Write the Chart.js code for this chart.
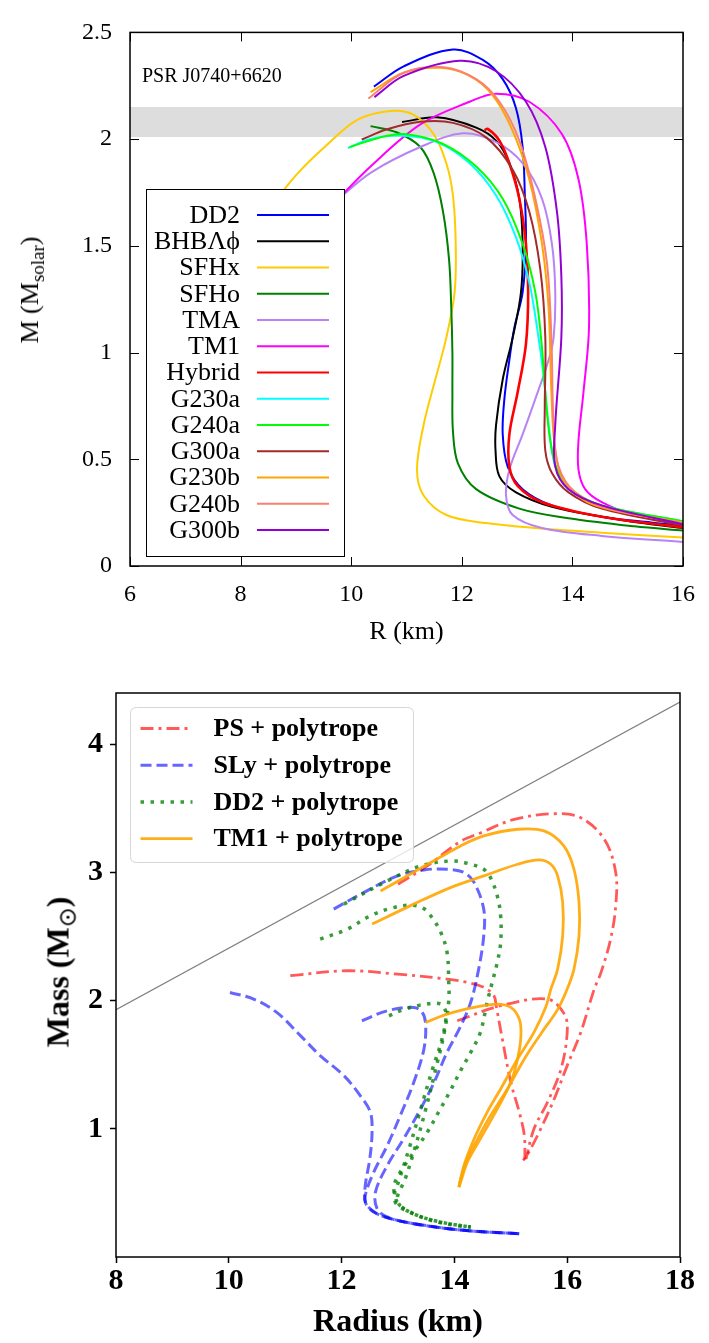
<!DOCTYPE html>
<html>
<head>
<meta charset="utf-8">
<script src="https://cdn.jsdelivr.net/npm/chart.js@4.4.0/dist/chart.umd.min.js"></script>
<style>
  body { margin: 0; background: #fff; width: 709px; height: 1343px; position: relative; overflow: hidden; }
  canvas { position: absolute; left: 0; }
  #topCanvas { top: 0; }
  #bottomCanvas { top: 650px; }
  .ytitle { position: absolute; transform: translate(-50%, -50%) rotate(-90deg); white-space: nowrap; color: #000; }
  #topTitle { left: 30px; top: 290px; font: 26px "Liberation Serif", serif; }
  #topTitle span { font-size: 19px; position: relative; top: 6px; }
  #bottomTitle { left: 58px; top: 972px; font: bold 32px "Liberation Serif", serif; }
  #bottomTitle span { font-size: 24px; position: relative; top: 7px; font-weight: normal; }
</style>
</head>
<body>
<canvas id="topCanvas" width="709" height="650"></canvas>
<canvas id="bottomCanvas" width="709" height="693"></canvas>
<div class="ytitle" id="topTitle">M (M<span>solar</span>)</div>
<div class="ytitle" id="bottomTitle">Mass (M<span>⊙</span>)</div>
<script>
// ---------- top panel: M-R curves (R in km, M in solar masses) ----------
const topXTicks = [6, 8, 10, 12, 14, 16];
const topYTicks = [0, 0.5, 1, 1.5, 2, 2.5];
const bandR = [6, 16];
const bandLow = [2.01, 2.01];
const bandHigh = [2.15, 2.15];

const dd2R = [10.41, 10.95, 11.84, 12.38, 12.74, 12.98, 13.10, 13.14, 13.16, 13.10, 12.95, 12.86, 12.77, 12.74, 12.83, 13.10, 13.63, 14.53, 15.42, 16.0];
const dd2M = [2.246, 2.341, 2.420, 2.371, 2.281, 2.145, 1.963, 1.736, 1.509, 1.282, 1.116, 0.965, 0.783, 0.617, 0.466, 0.360, 0.284, 0.231, 0.204, 0.190];
const bhbR = [10.92, 11.55, 12.26, 12.62, 12.86, 13.04, 13.10, 13.07, 12.92, 12.74, 12.62, 12.61, 12.68, 12.98, 13.63, 14.53, 15.30, 16.0];
const bhbM = [2.080, 2.102, 2.054, 1.993, 1.887, 1.721, 1.509, 1.282, 1.070, 0.874, 0.662, 0.541, 0.420, 0.345, 0.277, 0.231, 0.200, 0.178];
const sfhxR = [8.62, 9.04, 9.52, 10.11, 10.71, 11.13, 11.49, 11.72, 11.84, 11.89, 11.87, 11.72, 11.49, 11.31, 11.19, 11.31, 11.72, 12.44, 13.33, 14.53, 16.0];
const sfhxM = [1.710, 1.842, 1.963, 2.090, 2.132, 2.114, 2.024, 1.887, 1.736, 1.509, 1.282, 1.070, 0.844, 0.662, 0.451, 0.330, 0.239, 0.201, 0.178, 0.156, 0.133];
const sfhoR = [10.35, 10.83, 11.25, 11.49, 11.66, 11.77, 11.81, 11.83, 11.83, 11.84, 11.93, 12.26, 13.04, 13.93, 15.12, 16.0];
const sfhoM = [2.061, 2.031, 1.963, 1.842, 1.661, 1.434, 1.207, 1.000, 0.814, 0.632, 0.481, 0.360, 0.269, 0.224, 0.186, 0.166];
const tmaR = [9.73, 10.35, 11.25, 12.02, 12.62, 13.10, 13.45, 13.63, 13.69, 13.66, 13.57, 13.33, 13.10, 12.86, 12.80, 12.92, 13.45, 14.53, 16.0];
const tmaM = [1.710, 1.842, 1.963, 2.027, 1.986, 1.887, 1.721, 1.509, 1.282, 1.070, 0.965, 0.783, 0.617, 0.451, 0.330, 0.239, 0.178, 0.141, 0.113];
const tm1R = [9.73, 10.35, 11.25, 12.14, 12.62, 13.22, 13.81, 14.11, 14.26, 14.30, 14.20, 14.11, 14.11, 14.23, 14.53, 15.12, 16.0];
const tm1M = [1.710, 1.872, 2.069, 2.175, 2.213, 2.175, 2.024, 1.812, 1.509, 1.116, 0.814, 0.587, 0.451, 0.360, 0.299, 0.239, 0.201];
const hybridR = [12.41, 12.47, 12.68, 12.86, 13.04, 13.16, 13.20, 13.16, 13.01, 12.86, 12.86, 13.01, 13.45, 14.53, 16.0];
const hybridM = [2.042, 2.048, 1.993, 1.887, 1.721, 1.509, 1.282, 1.040, 0.814, 0.617, 0.466, 0.375, 0.299, 0.231, 0.181];
const g230aR = [9.94, 10.35, 10.95, 11.55, 12.14, 12.62, 12.98, 13.22, 13.37, 13.48, 13.57, 13.69, 13.93, 14.53, 16.0];
const g230aM = [1.958, 2.001, 2.016, 1.986, 1.887, 1.736, 1.540, 1.328, 1.100, 0.889, 0.662, 0.466, 0.360, 0.284, 0.209];
const g240aR = [9.97, 10.65, 11.07, 11.66, 12.26, 12.74, 13.10, 13.33, 13.44, 13.51, 13.60, 13.75, 14.05, 14.53, 16.0];
const g240aM = [1.963, 2.016, 2.021, 1.978, 1.872, 1.721, 1.509, 1.282, 1.050, 0.814, 0.587, 0.436, 0.345, 0.284, 0.209];
const g300aR = [10.19, 10.65, 11.25, 11.84, 12.44, 12.92, 13.22, 13.42, 13.51, 13.50, 13.51, 13.63, 13.93, 14.53, 16.0];
const g300aM = [1.998, 2.046, 2.081, 2.076, 2.008, 1.857, 1.661, 1.388, 1.070, 0.738, 0.541, 0.436, 0.345, 0.269, 0.190];
const g230bR = [10.35, 10.95, 11.61, 12.14, 12.56, 12.92, 13.22, 13.45, 13.57, 13.62, 13.69, 13.87, 14.41, 16.0];
const g230bM = [2.220, 2.311, 2.334, 2.296, 2.205, 2.039, 1.812, 1.509, 1.207, 0.814, 0.541, 0.390, 0.284, 0.204];
const g240bR = [10.31, 10.95, 11.67, 12.26, 12.68, 13.04, 13.33, 13.54, 13.62, 13.66, 13.75, 14.05, 14.65, 16.0];
const g240bM = [2.190, 2.311, 2.337, 2.281, 2.175, 1.993, 1.721, 1.419, 1.070, 0.662, 0.466, 0.345, 0.269, 0.201];
const g300bR = [10.42, 10.95, 11.96, 12.62, 13.16, 13.51, 13.72, 13.80, 13.80, 13.69, 13.69, 13.93, 14.53, 16.0];
const g300bM = [2.197, 2.296, 2.367, 2.318, 2.175, 1.963, 1.661, 1.358, 1.070, 0.662, 0.466, 0.360, 0.284, 0.196];

const topLabels = ['DD2', 'BHBΛϕ', 'SFHx', 'SFHo', 'TMA', 'TM1', 'Hybrid', 'G230a', 'G240a', 'G300a', 'G230b', 'G240b', 'G300b'];
const topColors = ['#0000ff', '#000000', '#ffcc00', '#008000', '#b883f5', '#ff00ff', '#ff0000', '#00ffff', '#00ff00', '#a52a2a', '#ffa500', '#fa8072', '#9400d3'];

// ---------- bottom panel: EOS + polytrope families ----------
const botXTicks = [8, 10, 12, 14, 16, 18];
const botYTicks = [1, 2, 3, 4];
const causalR = [8, 18];
const causalM = [1.93, 4.33];

const ps1R = [13.00, 13.52, 14.10, 14.47, 15.06, 15.77, 16.24, 16.66, 16.86, 16.86, 16.77, 16.60, 16.48, 16.24, 16.00, 15.77, 15.53, 15.32, 15.22];
const ps1M = [2.908, 3.051, 3.240, 3.310, 3.414, 3.458, 3.427, 3.258, 3.000, 2.739, 2.480, 2.220, 2.090, 1.752, 1.493, 1.233, 0.999, 0.818, 0.753];
const ps2R = [11.09, 12.10, 12.99, 13.87, 14.23, 14.52, 14.70, 14.74, 14.85, 15.00, 15.15, 15.24, 15.25];
const ps2M = [2.195, 2.233, 2.207, 2.168, 2.142, 2.104, 2.039, 1.960, 1.700, 1.363, 1.130, 0.948, 0.760];
const ps3R = [14.05, 14.82, 15.65, 15.95, 16.00, 15.89, 15.65, 15.41, 15.27];
const ps3M = [1.843, 1.960, 2.012, 1.895, 1.752, 1.467, 1.207, 0.999, 0.766];

const sly1R = [11.86, 12.39, 12.99, 13.46, 13.87, 14.17, 14.35, 14.52, 14.52, 14.43, 14.29, 14.11, 13.87, 13.64, 13.40, 13.10, 12.81, 12.60, 12.63, 12.81, 13.28, 14.17, 15.15];
const sly1M = [2.714, 2.843, 2.973, 3.020, 3.025, 3.000, 2.921, 2.714, 2.506, 2.246, 1.987, 1.800, 1.597, 1.363, 1.155, 0.922, 0.714, 0.506, 0.376, 0.312, 0.260, 0.208, 0.182];
const sly2R = [12.36, 12.81, 13.28, 13.43, 13.49, 13.46, 13.28, 13.04, 12.81, 12.57, 12.42, 12.45, 12.69, 13.28, 14.17, 15.15];
const sly2M = [1.843, 1.921, 1.947, 1.908, 1.817, 1.623, 1.363, 1.103, 0.870, 0.662, 0.480, 0.402, 0.325, 0.260, 0.208, 0.182];
const sly3R = [10.02, 10.44, 10.85, 11.27, 11.62, 12.04, 12.33, 12.51, 12.54, 12.50, 12.42, 12.42, 12.57, 12.87, 13.28, 14.17, 15.15];
const sly3M = [2.064, 2.012, 1.908, 1.727, 1.571, 1.415, 1.259, 1.129, 0.974, 0.766, 0.558, 0.428, 0.351, 0.299, 0.260, 0.208, 0.182];

const dd21R = [11.62, 12.10, 12.51, 12.87, 13.22, 13.45, 13.60, 13.76, 13.87, 13.90, 13.90, 13.82, 13.66, 13.49, 13.30, 13.12, 12.99, 13.04, 13.34, 13.70, 14.08, 14.29];
const dd21M = [2.480, 2.558, 2.662, 2.720, 2.745, 2.720, 2.650, 2.531, 2.376, 2.143, 2.000, 1.750, 1.450, 1.150, 0.850, 0.600, 0.470, 0.400, 0.325, 0.278, 0.247, 0.234];
const dd22R = [12.04, 12.87, 13.40, 13.96, 14.29, 14.52, 14.64, 14.76, 14.82, 14.82, 14.76, 14.67, 14.58, 14.46, 14.29, 14.11, 13.93, 13.75, 13.52, 13.28, 13.04, 12.93, 12.96, 13.04, 13.22, 13.58, 14.00, 14.29];
const dd22M = [2.753, 2.947, 3.051, 3.090, 3.064, 3.025, 2.960, 2.817, 2.662, 2.454, 2.298, 2.142, 1.986, 1.752, 1.597, 1.454, 1.298, 1.155, 0.974, 0.818, 0.662, 0.558, 0.454, 0.402, 0.350, 0.286, 0.247, 0.234];
const dd23R = [12.84, 13.10, 13.40, 13.75, 13.85, 13.78, 13.60, 13.40, 13.20, 13.02, 12.93, 13.00, 13.34, 13.70, 14.08, 14.29];
const dd23M = [1.882, 1.930, 1.965, 1.975, 1.900, 1.700, 1.450, 1.150, 0.850, 0.600, 0.470, 0.400, 0.325, 0.278, 0.247, 0.234];

const tm11R = [12.69, 13.16, 13.58, 14.11, 14.52, 15.12, 15.59, 15.94, 16.12, 16.21, 16.21, 16.12, 16.00, 15.83, 15.55, 15.24, 14.94, 14.64, 14.41, 14.23, 14.11, 14.08];
const tm11M = [2.856, 2.973, 3.077, 3.207, 3.285, 3.337, 3.324, 3.207, 3.025, 2.765, 2.506, 2.246, 2.090, 1.930, 1.752, 1.545, 1.311, 1.103, 0.922, 0.766, 0.610, 0.545];
const tm12R = [12.54, 13.28, 13.93, 14.52, 15.12, 15.50, 15.71, 15.83, 15.92, 15.92, 15.83, 15.71, 15.62, 15.41, 15.12, 14.82, 14.58, 14.35, 14.17, 14.08];
const tm12M = [2.597, 2.753, 2.882, 2.973, 3.064, 3.098, 3.064, 2.973, 2.765, 2.506, 2.246, 2.090, 1.950, 1.752, 1.545, 1.311, 1.129, 0.922, 0.714, 0.545];
const tm13R = [13.49, 13.87, 14.35, 14.76, 15.00, 15.15, 15.18, 15.12, 15.00, 14.76, 14.46, 14.23, 14.11, 14.08];
const tm13M = [1.830, 1.895, 1.947, 1.973, 1.947, 1.856, 1.727, 1.545, 1.363, 1.155, 0.922, 0.740, 0.584, 0.545];

const famLabels = ['PS + polytrope', 'SLy + polytrope', 'DD2 + polytrope', 'TM1 + polytrope'];
const famColors = ['rgba(255,0,0,0.65)', 'rgba(0,0,255,0.6)', 'rgba(0,128,0,0.78)', 'rgba(255,165,0,0.9)'];
const famDashes = [[13, 5, 3, 5], [11, 5], [3.5, 6.5], []];
const famWidths = [2.8, 3, 3.5, 2.8];

const pts = (r, m) => r.map((v, i) => ({ x: v, y: m[i] }));
const serif = '"Liberation Serif", "Times New Roman", serif';

function roundedBox(ctx, x, y, w, h, r) {
  ctx.beginPath();
  ctx.moveTo(x + r, y);
  ctx.lineTo(x + w - r, y);
  ctx.quadraticCurveTo(x + w, y, x + w, y + r);
  ctx.lineTo(x + w, y + h - r);
  ctx.quadraticCurveTo(x + w, y + h, x + w - r, y + h);
  ctx.lineTo(x + r, y + h);
  ctx.quadraticCurveTo(x, y + h, x, y + h - r);
  ctx.lineTo(x, y + r);
  ctx.quadraticCurveTo(x, y, x + r, y);
  ctx.closePath();
}

// gnuplot style frame with inward ticks on all four sides
const gnuFrame = {
  id: 'gnuFrame',
  afterDraw(chart) {
    const { ctx, chartArea: a, scales: { x, y } } = chart;
    ctx.save();
    ctx.strokeStyle = '#000';
    ctx.lineWidth = 1;
    ctx.beginPath();
    x.ticks.forEach(t => {
      const px = Math.round(x.getPixelForValue(t.value)) + 0.5;
      ctx.moveTo(px, a.bottom); ctx.lineTo(px, a.bottom - 9);
      ctx.moveTo(px, a.top); ctx.lineTo(px, a.top + 9);
    });
    y.ticks.forEach(t => {
      const py = Math.round(y.getPixelForValue(t.value)) + 0.5;
      ctx.moveTo(a.left, py); ctx.lineTo(a.left + 9, py);
      ctx.moveTo(a.right, py); ctx.lineTo(a.right - 9, py);
    });
    ctx.stroke();
    ctx.lineWidth = 1.5;
    ctx.strokeRect(a.left, a.top, a.right - a.left, a.bottom - a.top);
    ctx.restore();
  }
};

// opaque key box + the pulsar label
const topKey = {
  id: 'topKey',
  afterDatasetsDraw(chart) {
    const { ctx, chartArea: a } = chart;
    const bx = a.left + 16, by = 189, bw = 198, bh = 367;
    ctx.save();
    ctx.fillStyle = '#fff';
    ctx.fillRect(bx, by, bw, bh);
    ctx.strokeStyle = '#000';
    ctx.lineWidth = 1;
    ctx.strokeRect(bx + 0.5, by + 0.5, bw, bh);
    ctx.font = '26px ' + serif;
    ctx.textAlign = 'right';
    ctx.textBaseline = 'middle';
    chart.data.datasets.filter(d => d.inKey).forEach((d, i) => {
      const yy = by + 26 + i * 26.25;
      ctx.fillStyle = '#000';
      ctx.fillText(d.label, bx + 94, yy + 1);
      ctx.strokeStyle = d.borderColor;
      ctx.lineWidth = 2;
      ctx.beginPath();
      ctx.moveTo(bx + 111, yy); ctx.lineTo(bx + 183, yy);
      ctx.stroke();
    });
    ctx.textAlign = 'left';
    ctx.fillStyle = '#000';
    ctx.font = '20px ' + serif;
    ctx.fillText('PSR J0740+6620', a.left + 12, 77);
    ctx.restore();
  }
};

// band first (highest order = drawn underneath), then curves so that later ones sit on top
const topSets = [
  { data: pts(bandR, bandLow), order: 100, showLine: true, borderWidth: 0, borderColor: 'rgba(0,0,0,0)', fill: false, pointRadius: 0 },
  { data: pts(bandR, bandHigh), order: 100, showLine: true, borderWidth: 0, borderColor: 'rgba(0,0,0,0)', fill: '-1', backgroundColor: '#dddddd', pointRadius: 0 }
];
const topCurves = [[dd2R, dd2M], [bhbR, bhbM], [sfhxR, sfhxM], [sfhoR, sfhoM], [tmaR, tmaM], [tm1R, tm1M], [hybridR, hybridM],
  [g230aR, g230aM], [g240aR, g240aM], [g300aR, g300aM], [g230bR, g230bM], [g240bR, g240bM], [g300bR, g300bM]];
topCurves.forEach((c, i) => {
  topSets.push({
    label: topLabels[i], inKey: true, order: 50 - i, data: pts(c[0], c[1]),
    borderColor: topColors[i], borderWidth: topLabels[i] === 'Hybrid' ? 2.6 : 2,
    showLine: true, pointRadius: 0, tension: 0.35, fill: false
  });
});

new Chart(document.getElementById('topCanvas'), {
  type: 'scatter',
  data: { datasets: topSets },
  options: {
    responsive: false,
    animation: false,
    layout: { padding: { top: 15, right: 20, left: 0, bottom: 0 } },
    plugins: { legend: { display: false }, tooltip: { enabled: false }, filler: { propagate: false } },
    scales: {
      x: {
        type: 'linear', min: 6, max: 16,
        afterBuildTicks: s => { s.ticks = topXTicks.map(v => ({ value: v })); },
        afterFit: s => { s.height = 84; },
        ticks: { color: '#000', font: { family: serif, size: 24 }, padding: 14, autoSkip: false, maxRotation: 0, callback: v => String(v) },
        grid: { display: false, drawTicks: false },
        border: { display: false },
        title: { display: true, text: 'R (km)', color: '#000', font: { family: serif, size: 26 }, padding: { top: 0, bottom: 2 } }
      },
      y: {
        type: 'linear', min: 0, max: 2.5,
        afterBuildTicks: s => { s.ticks = topYTicks.map(v => ({ value: v })); },
        afterFit: s => { s.width = 130; },
        ticks: { color: '#000', font: { family: serif, size: 24 }, padding: 18, callback: v => String(v) },
        grid: { display: false, drawTicks: false },
        border: { display: false }
      }
    }
  },
  plugins: [topKey, gnuFrame]
});

// ---------- bottom chart ----------
const mplFrame = {
  id: 'mplFrame',
  afterDraw(chart) {
    const { ctx, chartArea: a } = chart;
    ctx.save();
    ctx.strokeStyle = '#000';
    ctx.lineWidth = 1.5;
    ctx.strokeRect(a.left, a.top, a.right - a.left, a.bottom - a.top);
    ctx.restore();
  }
};

const botKey = {
  id: 'botKey',
  afterDatasetsDraw(chart) {
    const { ctx, chartArea: a } = chart;
    const bx = a.left + 14.5, by = a.top + 14.5, bw = 283, bh = 155;
    ctx.save();
    roundedBox(ctx, bx, by, bw, bh, 6);
    ctx.fillStyle = 'rgba(255,255,255,0.8)';
    ctx.fill();
    ctx.strokeStyle = '#d6d6d6';
    ctx.lineWidth = 1;
    ctx.stroke();
    ctx.font = 'bold 26px ' + serif;
    ctx.textAlign = 'left';
    ctx.textBaseline = 'middle';
    famLabels.forEach((lab, i) => {
      const yy = by + 21 + i * 36.7;
      ctx.strokeStyle = famColors[i];
      ctx.lineWidth = famWidths[i];
      ctx.setLineDash(famDashes[i]);
      ctx.beginPath();
      ctx.moveTo(bx + 10, yy); ctx.lineTo(bx + 62, yy);
      ctx.stroke();
      ctx.setLineDash([]);
      ctx.fillStyle = '#000';
      ctx.fillText(lab, bx + 83, yy + 1);
    });
    ctx.restore();
  }
};

const famCurves = [
  [[ps1R, ps1M], [ps2R, ps2M], [ps3R, ps3M]],
  [[sly1R, sly1M], [sly2R, sly2M], [sly3R, sly3M]],
  [[dd21R, dd21M], [dd22R, dd22M], [dd23R, dd23M]],
  [[tm11R, tm11M], [tm12R, tm12M], [tm13R, tm13M]]
];
const botSets = [{
  label: 'causality', order: 100, data: pts(causalR, causalM), borderColor: '#808080', borderWidth: 1.2,
  showLine: true, pointRadius: 0, fill: false
}];
famCurves.forEach((fam, i) => {
  fam.forEach(c => {
    botSets.push({
      label: famLabels[i], order: 50 - i, data: pts(c[0], c[1]),
      borderColor: famColors[i], borderWidth: famWidths[i], borderDash: famDashes[i],
      showLine: true, pointRadius: 0, tension: 0.35, fill: false
    });
  });
});

new Chart(document.getElementById('bottomCanvas'), {
  type: 'scatter',
  data: { datasets: botSets },
  options: {
    responsive: false,
    animation: false,
    layout: { padding: { top: 43, right: 29, left: 0, bottom: 0 } },
    plugins: { legend: { display: false }, tooltip: { enabled: false } },
    scales: {
      x: {
        type: 'linear', min: 8, max: 18,
        afterBuildTicks: s => { s.ticks = botXTicks.map(v => ({ value: v })); },
        afterFit: s => { s.height = 86; },
        ticks: { color: '#000', font: { family: serif, size: 30, weight: 'bold' }, padding: 0, autoSkip: false, maxRotation: 0 },
        grid: { drawOnChartArea: false, drawTicks: true, tickLength: 6, tickWidth: 1.5, color: '#000' },
        border: { display: false },
        title: { display: true, text: 'Radius (km)', color: '#000', font: { family: serif, size: 32, weight: 'bold' }, padding: { top: 0, bottom: 1 } }
      },
      y: {
        type: 'linear', min: 0, max: 4.4,
        afterBuildTicks: s => { s.ticks = botYTicks.map(v => ({ value: v })); },
        afterFit: s => { s.width = 116; },
        ticks: { color: '#000', font: { family: serif, size: 30, weight: 'bold' }, padding: 7 },
        grid: { drawOnChartArea: false, drawTicks: true, tickLength: 6, tickWidth: 1.5, color: '#000' },
        border: { display: false }
      }
    }
  },
  plugins: [botKey, mplFrame]
});
</script>
</body>
</html>
